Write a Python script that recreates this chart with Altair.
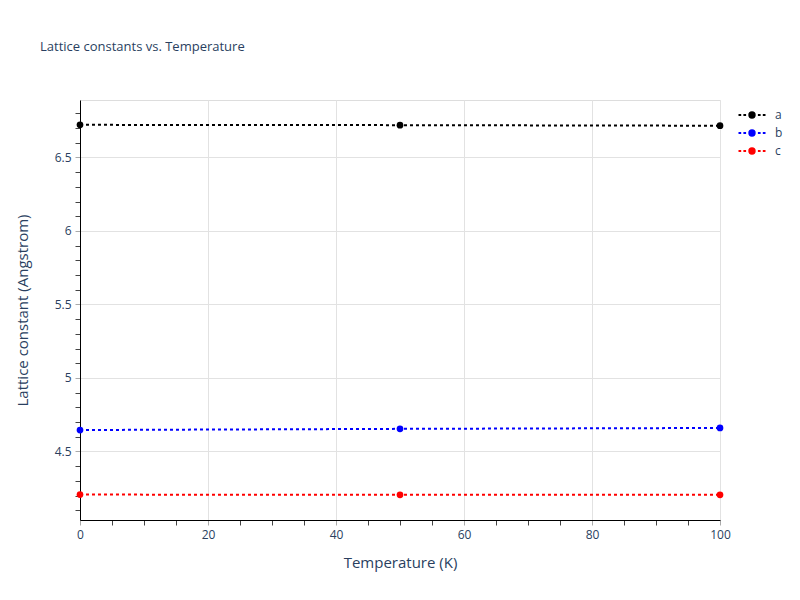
import altair as alt
import pandas as pd

temperature = [0, 50, 100]
a_vals = [6.722, 6.720, 6.716]
b_vals = [4.646, 4.654, 4.660]
c_vals = [4.207, 4.205, 4.205]
series = ["a", "b", "c"]
colors = ["#000000", "#0000ff", "#ff0000"]

x_ticks = list(range(0, 101, 5))
y_ticks = [round(4.1 + 0.1 * i, 1) for i in range(28)]

rows = []
for name, vals in zip(series, [a_vals, b_vals, c_vals]):
    for t, v in zip(temperature, vals):
        rows.append({"T": t, "L": v, "s": name})
df = pd.DataFrame(rows)

FONT = "Open Sans"
TXT = "#2a3f5f"

x_major = "datum.value % 20 == 0"
y_major = "round(datum.value * 10) % 5 == 0"

x_axis = alt.Axis(
    title="Temperature (K)", values=x_ticks,
    labelExpr=f"{x_major} ? format(datum.value, '~g') : ''",
    labelOverlap=False, labelFlush=False, labelBound=False,
    labelFontSize=12, labelColor=TXT, labelFont=FONT, labelPadding=4,
    titleFontSize=15, titleColor=TXT, titleFont=FONT, titleFontWeight="normal", titlePadding=15,
    domainColor="#000000", domainWidth=1,
    tickSize=5, tickWidth=1,
    tickColor={"condition": {"test": x_major, "value": "#aaaaaa"}, "value": "#444444"},
    grid=True, gridColor="#e2e2e2", gridWidth=1,
    gridOpacity={"condition": {"test": x_major, "value": 1}, "value": 0},
)
y_axis = alt.Axis(
    title="Lattice constant (Angstrom)", values=y_ticks,
    labelExpr=f"{y_major} ? format(datum.value, '~g') : ''",
    labelOverlap=False, labelFlush=False, labelBound=False,
    labelFontSize=12, labelColor=TXT, labelFont=FONT, labelPadding=4,
    titleFontSize=15, titleColor=TXT, titleFont=FONT, titleFontWeight="normal", titlePadding=24,
    domainColor="#000000", domainWidth=1,
    tickSize=5, tickWidth=1,
    tickColor={"condition": {"test": y_major, "value": "#aaaaaa"}, "value": "#444444"},
    grid=True, gridColor="#e2e2e2", gridWidth=1,
    gridOpacity={"condition": {"test": y_major, "value": 1}, "value": 0},
)

xenc = alt.X("T:Q", scale=alt.Scale(domain=[0, 100], nice=False, zero=False), axis=x_axis)
yenc = alt.Y("L:Q", scale=alt.Scale(domain=[4.034, 6.891], nice=False, zero=False), axis=y_axis)
cscale = alt.Scale(domain=series, range=colors)

legend_path = (
    "M-1.35,0H-1.08M-0.86,0H-0.59"
    "M0.59,0H0.86M1.08,0H1.35"
    "M-0.27,0A0.27,0.27,0,1,1,0.27,0A0.27,0.27,0,1,1,-0.27,0Z"
)
legend = alt.Legend(
    title=None, orient="none", legendX=661, legendY=4,
    symbolType=legend_path, symbolSize=400, symbolStrokeWidth=2,
    labelFontSize=12, labelColor=TXT, labelFont=FONT, labelOffset=12, rowPadding=0,
)

lines = alt.Chart(df).mark_line(strokeDash=[3, 3], strokeWidth=2).encode(
    x=xenc, y=yenc, color=alt.Color("s:N", scale=cscale, legend=legend), detail="s:N"
)
points = alt.Chart(df).mark_point(filled=True, size=45, opacity=1).encode(
    x=xenc, y=yenc, color=alt.Color("s:N", scale=cscale, legend=legend),
)

chart = alt.layer(lines, points).properties(
    width=640, height=420,
    title=alt.TitleParams("Lattice constants vs. Temperature", anchor="start", frame="group",
                          dx=-40, offset=46,
                          fontSize=13, font=FONT, fontWeight="normal", color=TXT),
    autosize=alt.AutoSizeParams(type="none"),
    padding={"left": 72, "top": 92, "right": 72, "bottom": 72},
).configure_view(stroke=None).configure(font=FONT)

chart.save("out.html", embed_options={"renderer": "svg", "actions": False})
